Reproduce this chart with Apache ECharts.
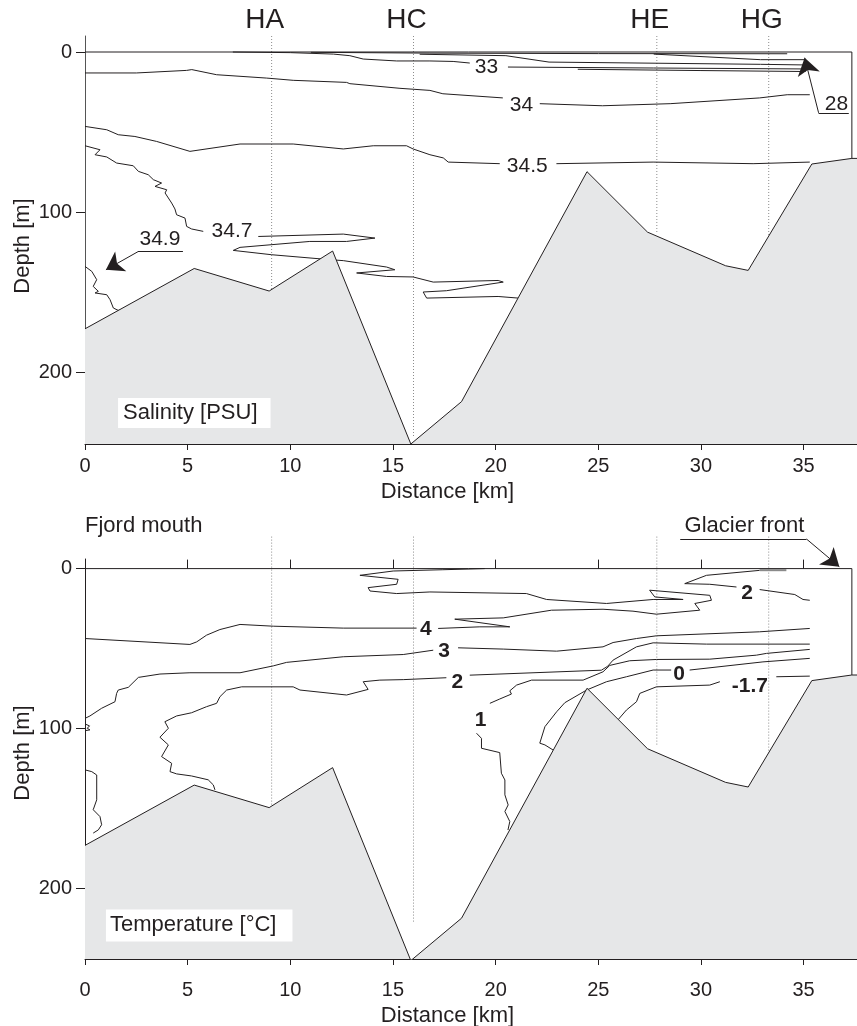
<!DOCTYPE html>
<html><head><meta charset="utf-8">
<script src="https://cdn.jsdelivr.net/npm/echarts@6/dist/echarts.min.js"></script>
<style>html,body{margin:0;padding:0;background:#fff}#c{width:857px;height:1026px}</style>
</head><body><div id="c"></div>
<script>
// ---------------- DATA (km, depth m) ----------------
const tickKm = [0, 5, 10, 15, 20, 25, 30, 35];
const depthTicks = [0, 100, 200];
const stationNames = ['HA', 'HC', 'HE', 'HG'];
const stationKm = [9.09, 16.0, 27.85, 33.3];
const stationEndTop = [150, 241, 113, 116];
const stationEndBottom = [148, 221, 110, 118];

const bathy = [[0,173],[5.32,135.3],[8.97,149.4],[12.06,124.4],[15.87,245],[18.34,218.5],[24.45,74.8],[27.4,112.6],[31.2,133.6],[32.3,136.5],[35.4,70],[37.35,66.5],[37.6,66.5]];
const surfaceLine = [[0,0],[37.35,0],[37.35,66.5]];

// Salinity contours (segments broken at labels)
const sal33 = [
  [[7.2,0],[10,0.4],[12.1,1.3],[12.9,2.3],[13.55,4.4],[15.18,5.6],[16.8,5.6],[17.93,5.9],[18.74,6.9]],
  [[20.6,9.4],[27.7,10],[35.1,10.6]]
];
const salSurface = [
  [[11,0.2],[16.8,0.7],[25,1],[34.2,1.1]],
  [[16.3,1.4],[20.5,2.3],[22.6,6.3],[32.9,7.7],[35.1,8.1]],
  [[27.7,1.3],[32.9,4.8],[35.1,4.8]],
  [[24,10.8],[30,11.6],[35.1,12.2]]
];
const sal34 = [
  [[0,13.1],[2.5,13.1],[4.95,11.5],[5.2,11],[6.41,14.2],[8.85,16.3],[10.14,17.7],[12.74,19],[12.9,19.8],[15.34,22.7],[16.8,24],[17.43,26.1],[20.35,28.7]],
  [[22.15,32.3],[25.2,33.6],[28.5,32.3],[32.86,28.7],[34.2,26.7],[35.3,26.7]]
];
const sal345 = [
  [[0,46.5],[1.06,48.6],[1.62,51.7],[2.43,52.8],[3.49,55.9],[5.11,62.1],[7.55,57.5],[10.14,57.5],[12.58,60.6],[14.04,58.6],[15.66,58.6],[15.98,60.6],[16.8,64.2],[17.45,66.2],[17.69,68.8],[20.2,69.8]],
  [[22.96,69.8],[27.67,68.8],[32.54,69.8],[35.3,68.8]]
];
const sal347 = [
  [[0,58.6],[0.73,61.1],[0.49,64.2],[1.06,65.6],[1.54,69.4],[2.35,71.1],[2.6,74.6],[3.08,76.7],[3.33,79.8],[3.73,81.9],[3.41,84],[3.98,86.1],[3.9,88.1],[4.22,94.4],[4.38,98.1],[4.46,101.7],[4.87,103.8],[4.95,109],[5.19,110.6],[5.76,112.1]],
  [[8.44,115.3],[12.58,113.8],[14.12,116.3],[12.74,118.4],[10.95,118.4],[7.55,122.1],[7.22,124],[9.09,126.7],[11.93,129.8],[12.58,130.4],[14.69,134.4],[15.09,136.1],[13.23,138.1],[14.69,140.3],[15.98,140.6],[16.96,143.8],[20.12,142.8],[20.37,143.8],[17.6,149.2],[16.47,150],[16.64,153.8],[20.12,152.8],[21.1,153.8]]
];
const sal349 = [
  [[0,134],[0.33,137.1],[0.57,142.3],[0.4,146.5],[0.65,149.6],[0.49,150.6],[1.06,151.7],[1.22,154.8],[1.38,160],[1.62,161.5],[1.75,161.3]]
];
const salLabelText = ['33', '34', '34.5', '34.7', '34.9', '28'];
const salLabelKm = [19.55, 21.26, 21.54, 7.16, 3.65, 36.6];
const salLabelDepth = [9.8, 33.5, 71.5, 112.1, 116.9, 32.4];
const salUnderlines = [[[2.58,124.8],[4.77,124.8]], [[35.73,38],[37.2,38]]];
const salArrows = [[[2.58,124.8],[1.02,136.1]], [[35.73,38],[35.05,3.6]]];

// Temperature contours
const tem4 = [
  [[0,43.7],[5.11,47.4],[5.44,45.8],[5.92,41.6],[6.57,38.1],[7.55,34.9],[9.17,36],[12.58,37.2],[16.15,37.2]],
  [[17.2,37.4],[19.23,36.4],[20.69,36.4],[18.01,31.6],[20.37,30.8],[22.72,26],[25.23,25.4],[26.69,26.6],[27.83,28.5],[29.94,26],[29.7,21.8],[30.51,19.8],[30.43,16.7],[27.5,13.5],[27.75,17.7],[29.13,19.3]]
];
const tem3 = [
  [[0,93.6],[0.24,92.1],[0.81,87.3],[1.46,83.2],[1.54,78],[1.62,75.9],[2.11,74.2],[2.6,68],[3.65,65.9],[5.11,65.1],[7.55,65.1],[9.17,60.8],[9.82,58.6],[12.58,55.1],[15.5,53.7],[16.96,51]],
  [[18.17,49.5],[20.37,50.3],[22.97,51.6],[25.23,48.9],[25.72,46.2],[26.86,43.7],[27.83,42],[32.86,39.5],[35.3,37.4]]
];
const tem2 = [
  [[6.33,138.3],[6.25,135.2],[6.0,132],[5.19,129.6],[4.46,128.3],[4.14,126.9],[4.22,121.7],[3.73,117.5],[4.06,110.2],[3.65,105.4],[4.06,99.8],[3.89,95.7],[4.46,92.1],[5.19,90.1],[5.92,86.3],[6.41,84.2],[6.57,80.1],[6.9,75.9],[7.63,73.9],[10.14,73.9],[10.47,75.9],[12.74,79],[13.79,75.5],[13.55,70.7],[14.36,69.7],[15.5,69.4],[17.6,68.2]],
  [[18.74,66.6],[25.15,63.5],[25.46,61],[25.72,57.2],[26.86,48.9],[27.67,46.4],[30.27,47.2],[35.3,47.2]]
];
const tem1 = [
  [[20.6,163.4],[20.69,158.1],[20.45,151.8],[20.61,147.7],[20.45,141.4],[20.45,132.1],[20.28,127.9],[20.2,115],[19.31,112.3],[19.31,106.1],[19.07,102.9]],
  [[19.72,84.2],[20.2,81.5],[20.77,78.4],[20.69,76.4],[21.02,72.8],[21.75,69.7],[24.26,69.7],[25.23,64.5],[25.56,60.5],[26.53,57.6],[27.83,56.8],[30.43,56.6],[32.7,54.1],[33.19,53],[35.3,50.5]]
];
const tem0 = [
  [[22.8,113.4],[22.4,110.2],[22.15,109.1],[22.4,98.8],[22.97,89.5],[23.37,83.8],[24.43,75.9],[25.4,70.7],[26.37,67.6],[27.67,63.4],[28.55,63.4]],
  [[29.45,63.4],[33.02,58.3],[35.3,56.1]]
];
const temM17 = [
  [[25.96,94.5],[26.37,88.4],[26.86,83.2],[27.02,78],[27.83,73.9],[30.43,72.8],[30.92,70.7]],
  [[33.67,67.6],[35.3,67.2]]
];
const temSurf2 = [
  [[32.86,1.1],[30.27,4.2],[29.21,9.4],[30.43,9.8],[31.73,11.5]],
  [[32.86,13.1],[34.57,16.2],[34.97,19.3],[35.3,19.8]]
];
const temSurfGrey = [[[32.86,1.0],[34.16,1.0]]];
const temZigzag = [
  [[19.47,0],[17.43,0.7],[15.01,1.5],[13.39,4.2],[15.25,6.7],[15.18,9.8],[13.79,11.9],[13.88,14],[15.18,15.6],[16.8,14.6],[21.5,15.6],[22.48,19.3],[25.4,21.8],[27.67,19.3],[29.13,19.3]]
];
const temLeft = [
  [[0,125.8],[0.33,126.9],[0.57,129],[0.57,144.5],[0.4,150.7],[0.73,155],[0.81,160.1],[0.65,163.3],[0.4,165.3]],
  [[0,97.1],[0.22,98.3],[0.11,99.8],[0.24,100.8],[0,101.3]]
];
const temLabelText = ['4', '3', '2', '1', '0', '-1.7', '2'];
const temLabelKm = [16.6, 17.49, 18.14, 19.27, 28.93, 32.38, 32.25];
const temLabelDepth = [37.6, 51.5, 70.7, 94.6, 66.1, 73.3, 15.6];
const glacierUnderline = [[[28.99,-18.5],[35.14,-18.5]]];
const glacierArrow = [[[35.14,-18.5],[36.74,-1.2]]];

const panelTitles = ['Salinity [PSU]', 'Temperature [°C]'];
const panelTitleKm = [1.61, 1.02];
const panelTitleDepth = [225.6, 223];
const headerTexts = ['Fjord mouth', 'Glacier front'];
const headerKm = [0, 29.2];
const headerDepth = [-26.6, -26.6];

// ---------------- CHART ----------------
const INK = '#231f20';
const FONT = '"Liberation Sans", Arial, Helvetica, sans-serif';
const chart = echarts.init(document.getElementById('c'), null, {renderer: 'canvas'});

function xIdx(g) { return g === 0 ? 0 : 1; }
function segSeries(segs, g, extra) {
  return segs.map(s => Object.assign({
    type: 'line', xAxisIndex: xIdx(g), yAxisIndex: g, data: s, symbol: 'none',
    silent: true, animation: false, z: 2,
    lineStyle: {color: INK, width: 1}
  }, extra || {}));
}
function textSeries(g, xs, ys, texts, labelStyle) {
  return {
    type: 'scatter', xAxisIndex: xIdx(g), yAxisIndex: g,
    data: xs.map((x, i) => [x, ys[i]]), symbol: 'circle', symbolSize: 1,
    itemStyle: {color: 'rgba(0,0,0,0)', opacity: 1}, clip: false, silent: true, z: 10, animation: false,
    emphasis: {disabled: true},
    label: Object.assign({show: true, position: 'inside', formatter: p => texts[p.dataIndex],
      color: INK, opacity: 1, fontFamily: FONT, fontSize: 21, verticalAlign: 'middle',
      textBorderWidth: 0}, labelStyle || {})
  };
}
function linesSeries(g, segs, arrow) {
  return {
    type: 'lines', coordinateSystem: 'cartesian2d', xAxisIndex: xIdx(g), yAxisIndex: g,
    data: segs.map(s => ({coords: s})), clip: false, silent: true, z: 9, animation: false,
    symbol: arrow ? ['none', 'arrow'] : ['none', 'none'], symbolSize: arrow ? [1, 17] : 1,
    lineStyle: {color: INK, width: 1, opacity: 1, curveness: 0}
  };
}
function stationSeries(g, topDepth, ends) {
  return stationKm.map((k, i) => ({
    type: 'line', xAxisIndex: xIdx(g), yAxisIndex: g, data: [[k, topDepth], [k, ends[i]]],
    symbol: 'none', silent: true, animation: false, clip: false, z: 1,
    lineStyle: {color: '#8c8c8c', width: 1, type: [1, 2]}
  }));
}
function bathySeries(g) {
  return [{
    type: 'line', xAxisIndex: xIdx(g), yAxisIndex: g, data: bathy, symbol: 'none',
    silent: true, animation: false, z: 3,
    lineStyle: {color: INK, width: 1},
    areaStyle: {color: '#e6e7e8', opacity: 1, origin: 'end'}
  }, {
    type: 'line', xAxisIndex: xIdx(g), yAxisIndex: g, data: surfaceLine, symbol: 'none',
    silent: true, animation: false, z: 4, lineStyle: {color: INK, width: 1}
  }];
}
function xAxisBottom(grid, margin, gap) {
  return {
    type: 'value', gridIndex: grid, position: 'bottom', min: 0, max: 37.6,
    axisLine: {show: true, onZero: false, lineStyle: {color: INK, width: 1}},
    axisTick: {show: true, length: 6, customValues: tickKm, lineStyle: {color: INK, width: 1}},
    axisLabel: {customValues: tickKm, fontSize: 20, margin: margin, color: INK, fontFamily: FONT},
    splitLine: {show: false},
    name: 'Distance [km]', nameLocation: 'middle', nameGap: gap, nameMoveOverlap: false,
    nameTextStyle: {fontSize: 22, color: INK, fontFamily: FONT, padding: [0, 47, 0, 0]}
  };
}
function yAxisLeft(grid, min, max, lineColor, namePad) {
  return {
    type: 'value', gridIndex: grid, inverse: true, min: min, max: max,
    axisLine: {show: true, onZero: false, lineStyle: {color: lineColor, width: 1}},
    axisTick: {show: true, length: 9, customValues: depthTicks, lineStyle: {color: INK, width: 1}},
    axisLabel: {customValues: depthTicks, fontSize: 20, margin: 13, color: INK, fontFamily: FONT},
    splitLine: {show: false},
    name: 'Depth [m]', nameLocation: 'middle', nameGap: 51, nameMoveOverlap: false,
    nameTextStyle: {fontSize: 22, color: INK, fontFamily: FONT, padding: namePad}
  };
}

const series = [].concat(
  stationSeries(0, -10, stationEndTop),
  segSeries(sal33, 0), segSeries(salSurface, 0), segSeries(sal34, 0), segSeries(sal345, 0),
  segSeries(sal347, 0), segSeries(sal349, 0),
  bathySeries(0),
  [textSeries(0, salLabelKm, salLabelDepth, salLabelText)],
  [linesSeries(0, salUnderlines, false), linesSeries(0, salArrows, true)],
  [textSeries(0, stationKm, stationKm.map(() => -20), stationNames, {fontSize: 28, offset: [-7, 0]})],
  [textSeries(0, [panelTitleKm[0]], [panelTitleDepth[0]], [panelTitles[0]],
    {align: 'left', backgroundColor: '#fff', padding: [4, 13, 4, 5], lineHeight: 22, fontSize: 22})],

  stationSeries(1, -20, stationEndBottom),
  segSeries(tem4, 1), segSeries(tem3, 1), segSeries(tem2, 1), segSeries(tem1, 1),
  segSeries(tem0, 1), segSeries(temM17, 1), segSeries(temSurf2, 1), segSeries(temZigzag, 1),
  segSeries(temLeft, 1),
  segSeries(temSurfGrey, 1, {lineStyle: {color: '#8a8a8a', width: 2}}),
  bathySeries(1),
  [textSeries(1, temLabelKm, temLabelDepth, temLabelText, {fontWeight: 'bold'})],
  [linesSeries(1, glacierUnderline, false), linesSeries(1, glacierArrow, true)],
  [textSeries(1, headerKm, headerDepth, headerTexts, {align: 'left', fontSize: 22})],
  [textSeries(1, [panelTitleKm[1]], [panelTitleDepth[1]], [panelTitles[1]],
    {align: 'left', backgroundColor: '#fff', padding: [5, 16, 5, 4], lineHeight: 22, fontSize: 22})]
);

chart.setOption({
  animation: false,
  backgroundColor: '#ffffff',
  textStyle: {fontFamily: FONT},
  grid: [
    {left: 85, top: 36, width: 772, height: 408, containLabel: false, outerBoundsMode: 'none'},
    {left: 85, top: 559, width: 772, height: 400, containLabel: false, outerBoundsMode: 'none'}
  ],
  xAxis: [
    xAxisBottom(0, 12, 37),
    xAxisBottom(1, 21, 46),
    {
      type: 'value', gridIndex: 1, position: 'top', min: 0, max: 37.6,
      axisLine: {show: false, onZero: true},
      axisTick: {show: true, length: 9, customValues: tickKm, lineStyle: {color: INK, width: 1}},
      axisLabel: {show: false}, splitLine: {show: false}
    }
  ],
  yAxis: [
    yAxisLeft(0, -10, 245, '#555555', [0, 12, 0, 0]),
    yAxisLeft(1, -6, 244, INK, [0, 0, 0, 12])
  ],
  series: series
});
</script></body></html>
